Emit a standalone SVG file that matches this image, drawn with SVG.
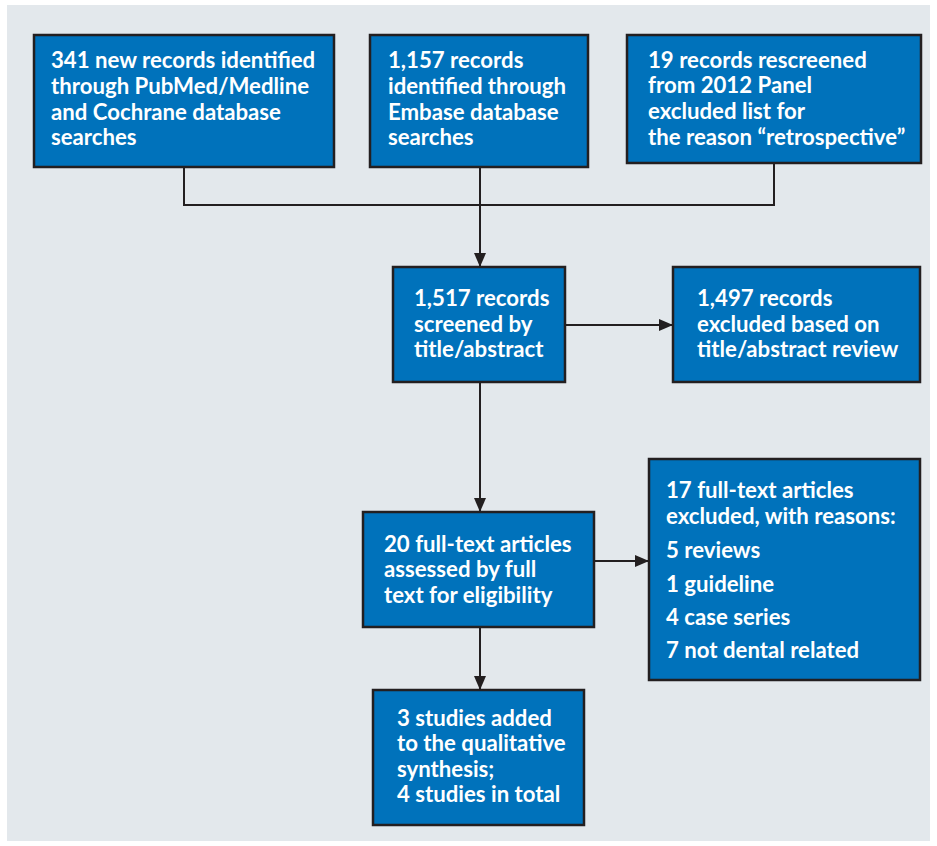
<svg xmlns="http://www.w3.org/2000/svg" width="937" height="846" viewBox="0 0 937 846">
<defs>
<style>
.box{fill:#0072bb;stroke:#231f20;stroke-width:2.5}
.t{font-family:Lato,"Liberation Sans",sans-serif;font-weight:bold;font-size:22.2px;fill:#ffffff}
.c{fill:none;stroke:#231f20;stroke-width:2}
</style>
<marker id="ah" markerWidth="14" markerHeight="12" viewBox="0 0 14 12" refX="14" refY="6" orient="auto" markerUnits="userSpaceOnUse">
<path d="M0,0 L14,6 L0,12 Z" fill="#231f20"/>
</marker>
</defs>
<rect x="0" y="0" width="937" height="846" fill="#ffffff"/>
<rect x="7" y="5" width="923" height="836" fill="#e3e8ec"/>
<g id="connectors">
<polyline class="c" points="184,167 184,205 774,205 774,163"/>
<line class="c" x1="480" y1="167" x2="480" y2="267" marker-end="url(#ah)"/>
<line class="c" x1="565" y1="325" x2="673" y2="325" marker-end="url(#ah)"/>
<line class="c" x1="480" y1="382" x2="480" y2="512" marker-end="url(#ah)"/>
<line class="c" x1="594" y1="561" x2="649" y2="561" marker-end="url(#ah)"/>
<line class="c" x1="480" y1="627" x2="480" y2="690" marker-end="url(#ah)"/>
</g>
<g id="n1">
<rect class="box" x="34" y="35" width="300" height="132"/>
<text class="t"><tspan x="51" y="68">341 new records identified</tspan><tspan x="51" y="94">through PubMed/Medline</tspan><tspan x="51" y="120">and Cochrane database</tspan><tspan x="51" y="145">searches</tspan></text>
</g>
<g id="n2">
<rect class="box" x="370" y="35" width="218" height="132"/>
<text class="t"><tspan x="388" y="68">1,157 records</tspan><tspan x="388" y="94">identified through</tspan><tspan x="388" y="120">Embase database</tspan><tspan x="388" y="145">searches</tspan></text>
</g>
<g id="n3">
<rect class="box" x="627" y="35" width="294" height="128"/>
<text class="t"><tspan x="648" y="68">19 records rescreened</tspan><tspan x="648" y="93">from 2012 Panel</tspan><tspan x="648" y="119">excluded list for</tspan><tspan x="648" y="145">the reason “retrospective”</tspan></text>
</g>
<g id="n4">
<rect class="box" x="393" y="267" width="172" height="115"/>
<text class="t"><tspan x="414" y="306">1,517 records</tspan><tspan x="414" y="332">screened by</tspan><tspan x="414" y="357">title/abstract</tspan></text>
</g>
<g id="n5">
<rect class="box" x="673" y="267" width="247" height="115"/>
<text class="t"><tspan x="697" y="306">1,497 records</tspan><tspan x="697" y="332">excluded based on</tspan><tspan x="697" y="357">title/abstract review</tspan></text>
</g>
<g id="n6">
<rect class="box" x="363" y="512" width="231" height="115"/>
<text class="t"><tspan x="384" y="552">20 full-text articles</tspan><tspan x="384" y="577">assessed by full</tspan><tspan x="384" y="603">text for eligibility</tspan></text>
</g>
<g id="n7">
<rect class="box" x="649" y="459" width="271" height="221"/>
<text class="t"><tspan x="666" y="498">17 full-text articles</tspan><tspan x="666" y="524">excluded, with reasons:</tspan><tspan x="666" y="558">5 reviews</tspan><tspan x="666" y="592">1 guideline</tspan><tspan x="666" y="625">4 case series</tspan><tspan x="666" y="658">7 not dental related</tspan></text>
</g>
<g id="n8">
<rect class="box" x="373" y="690" width="211" height="135"/>
<text class="t"><tspan x="397" y="726">3 studies added</tspan><tspan x="397" y="751">to the qualitative</tspan><tspan x="397" y="777">synthesis;</tspan><tspan x="397" y="802">4 studies in total</tspan></text>
</g>
</svg>
